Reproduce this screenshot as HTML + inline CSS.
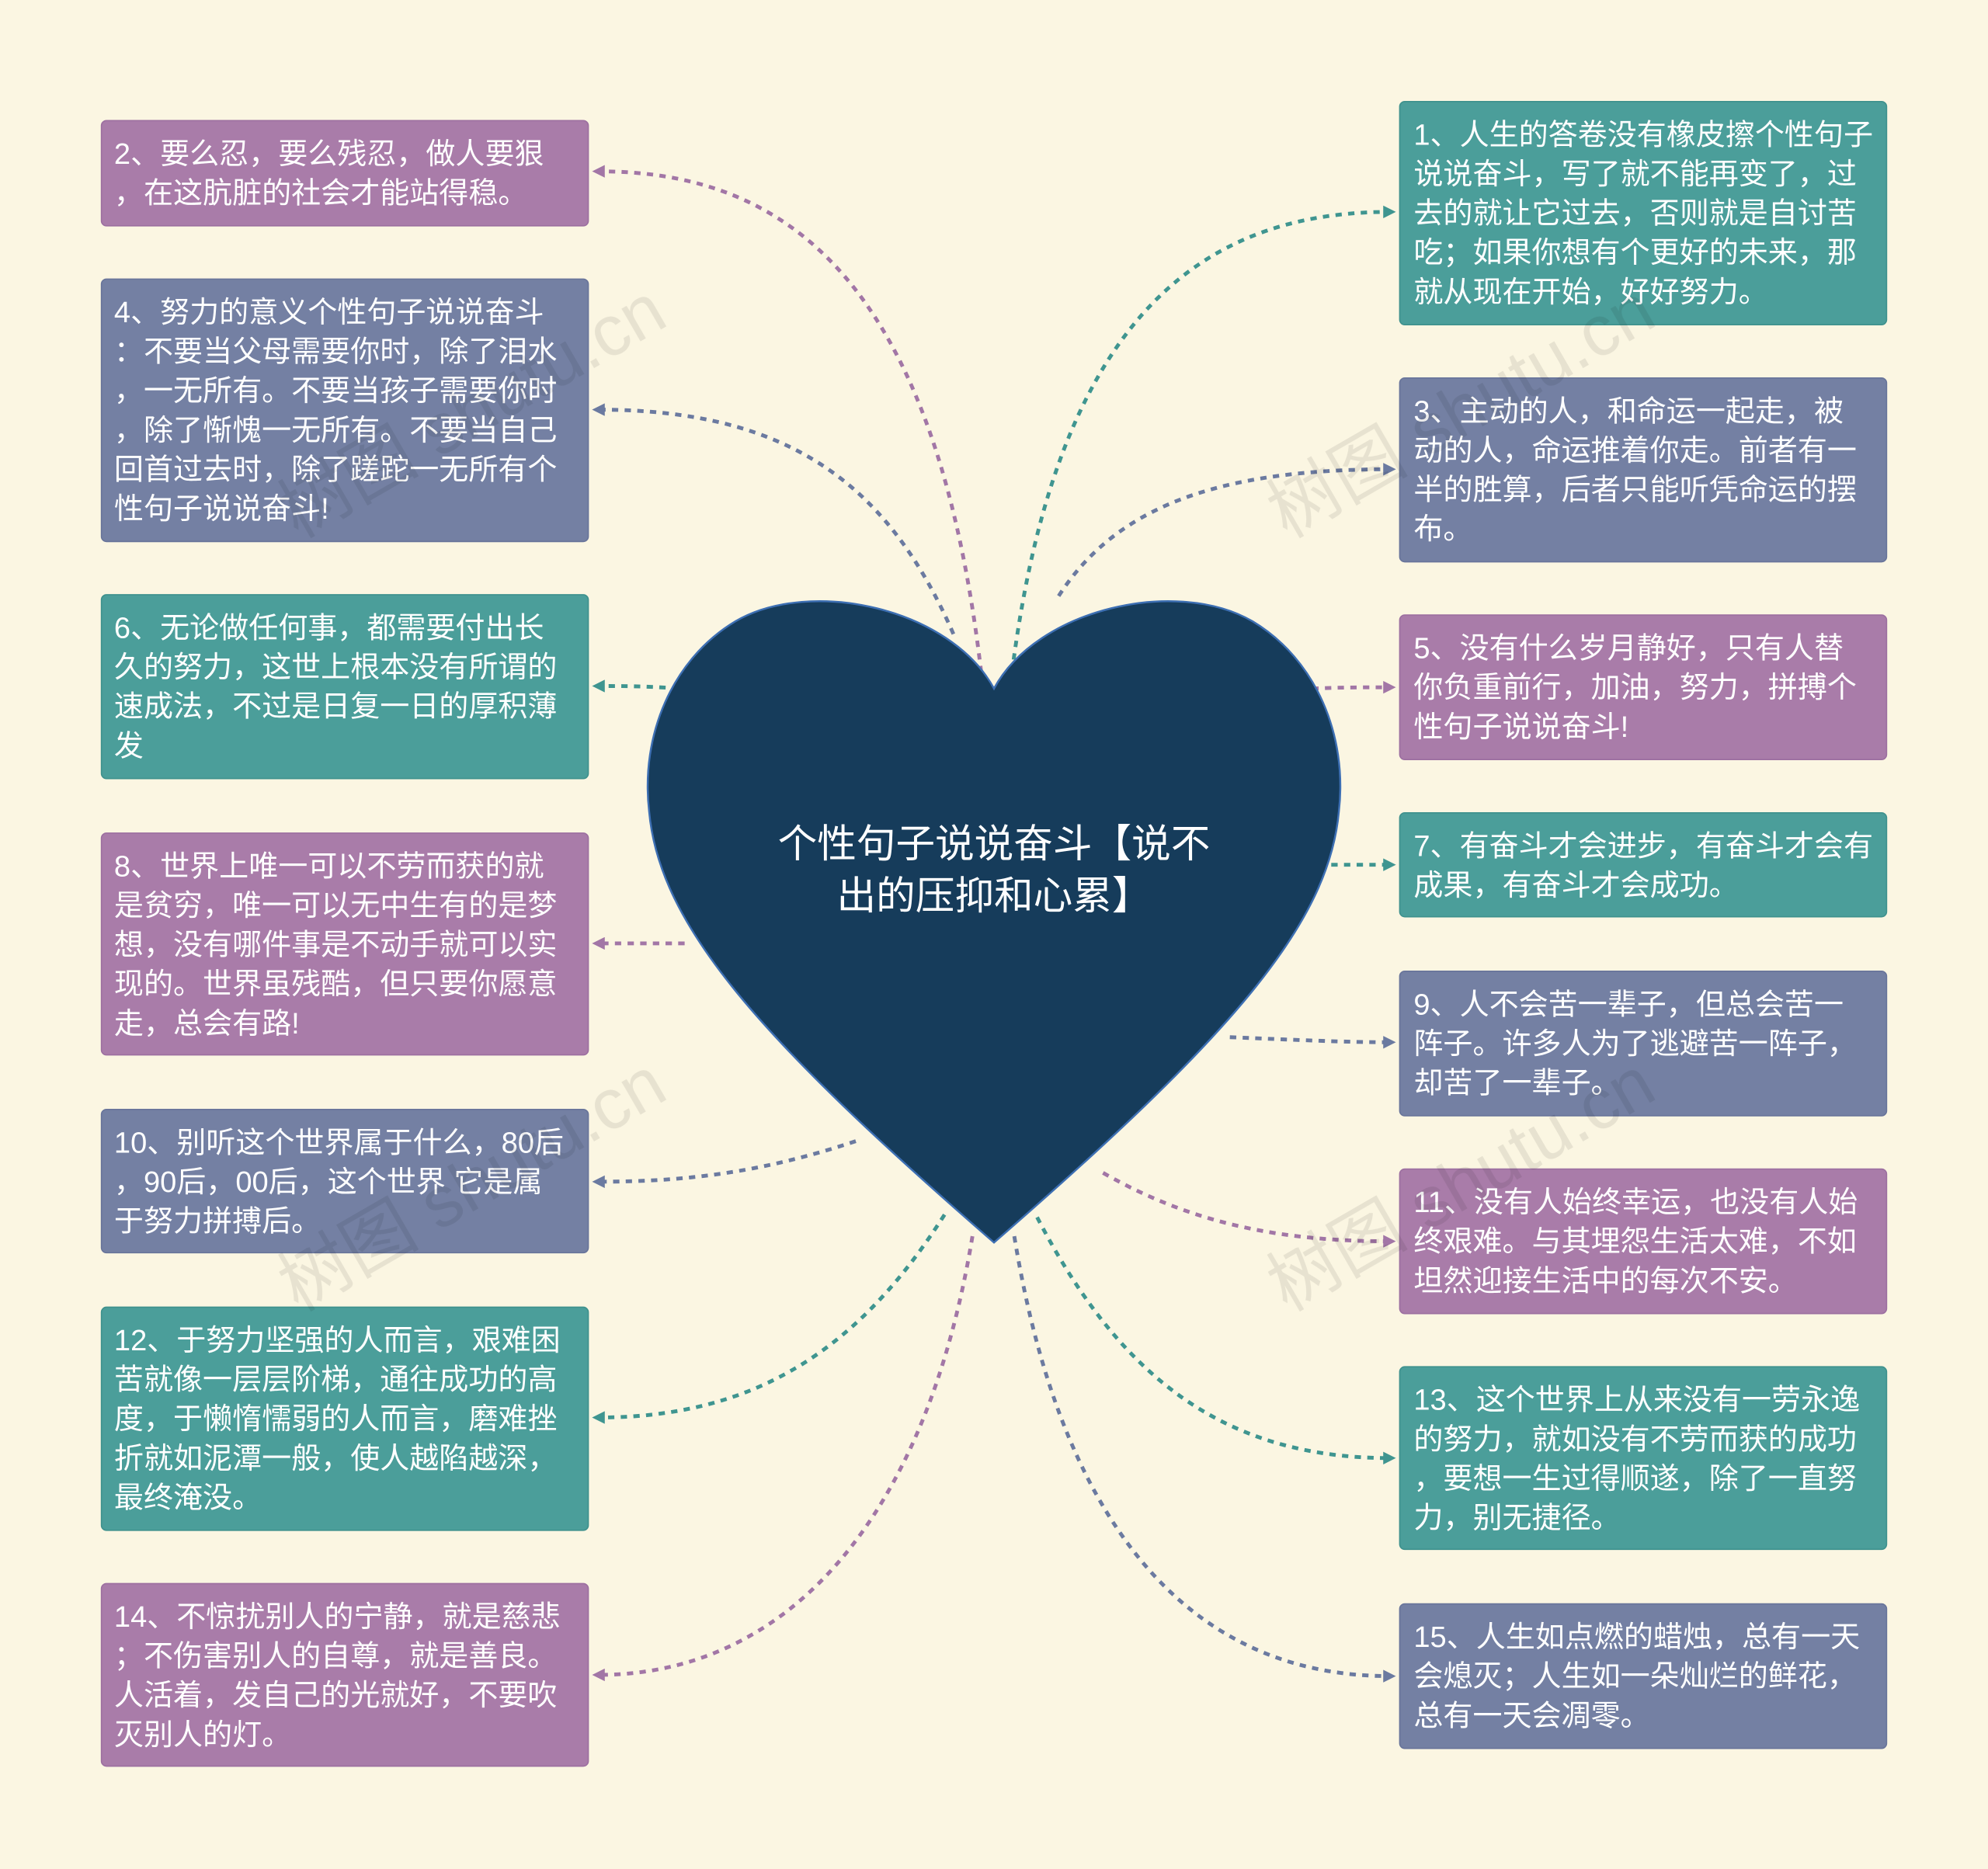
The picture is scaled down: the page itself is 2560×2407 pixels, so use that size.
<!DOCTYPE html>
<html><head><meta charset="utf-8"><style>
html,body{margin:0;padding:0;background:#fbf6e2;width:2560px;height:2407px;overflow:hidden;}
svg{display:block}
text{font-family:"Liberation Sans","Noto Sans CJK SC",sans-serif;}
.t{fill:#fff;font-size:23.3px;}
.wm{fill:#000;opacity:0.08;font-size:56px;font-family:"Liberation Serif","Noto Serif CJK SC",serif;}
</style></head><body>
<svg width="2560" height="2407" viewBox="0 0 1568 1474" xmlns="http://www.w3.org/2000/svg">
<defs>
<marker id="mp" markerWidth="10" markerHeight="10" refX="5" refY="5" orient="auto" markerUnits="userSpaceOnUse"><path d="M0,0 L10,5 L0,10 z" fill="#a276a6"/></marker>
<marker id="ms" markerWidth="10" markerHeight="10" refX="5" refY="5" orient="auto" markerUnits="userSpaceOnUse"><path d="M0,0 L10,5 L0,10 z" fill="#6b7aa0"/></marker>
<marker id="mt" markerWidth="10" markerHeight="10" refX="5" refY="5" orient="auto" markerUnits="userSpaceOnUse"><path d="M0,0 L10,5 L0,10 z" fill="#3f9590"/></marker>
</defs>
<rect width="1568" height="1474" fill="#fbf6e2"/>

<g fill="none" stroke-width="3" stroke-dasharray="5,5">
<path d="M775,540 C740,220 620,135 472,135" stroke="#a276a6" marker-end="url(#mp)"/>
<path d="M752,500 C700,380 620,323 472,323" stroke="#6b7aa0" marker-end="url(#ms)"/>
<path d="M535,543 C510,541 490,541 472,541" stroke="#3f9590" marker-end="url(#mt)"/>
<path d="M540,744 C510,744 490,744 472,744" stroke="#a276a6" marker-end="url(#mp)"/>
<path d="M675,900 C600,925 540,932 472,932" stroke="#6b7aa0" marker-end="url(#ms)"/>
<path d="M745,958 C680,1060 600,1118 472,1118" stroke="#3f9590" marker-end="url(#mt)"/>
<path d="M767,975 C730,1200 620,1321 472,1321" stroke="#a276a6" marker-end="url(#mp)"/>
<path d="M797,540 C830,260 940,167 1096,167" stroke="#3f9590" marker-end="url(#mt)"/>
<path d="M835,470 C880,400 960,370 1096,370" stroke="#6b7aa0" marker-end="url(#ms)"/>
<path d="M1035,543 C1060,542 1080,542 1096,542" stroke="#a276a6" marker-end="url(#mp)"/>
<path d="M1050,682 C1070,682 1085,682 1096,682" stroke="#3f9590" marker-end="url(#mt)"/>
<path d="M970,818 C1020,820 1060,822 1096,822" stroke="#6b7aa0" marker-end="url(#ms)"/>
<path d="M870,925 C940,965 1010,979 1096,979" stroke="#a276a6" marker-end="url(#mp)"/>
<path d="M818,960 C880,1080 960,1150 1096,1150" stroke="#3f9590" marker-end="url(#mt)"/>
<path d="M800,975 C840,1220 950,1322 1096,1322" stroke="#6b7aa0" marker-end="url(#ms)"/>
</g>

<path d="M784,543 C750,480 640,455 580,490 C530,520 505,580 512,640 C520,730 600,820 784,980 C968,820 1048,730 1056,640 C1063,580 1038,520 988,490 C928,455 818,480 784,543 Z" fill="#163c5b" stroke="#3d6fb3" stroke-width="1.5"/>
<text x="784" y="676" text-anchor="middle" fill="#fff" font-size="31">个性句子说说奋斗【说不</text>
<text x="784" y="717" text-anchor="middle" fill="#fff" font-size="31">出的压抑和心累】</text>

<g stroke-width="1">
<rect x="80" y="95" width="384" height="83" rx="4" fill="#a97ca9" stroke="#9c6fa0"/>
<rect x="80" y="220" width="384" height="207" rx="4" fill="#7480a3" stroke="#68749a"/>
<rect x="80" y="469" width="384" height="145" rx="4" fill="#4b9e9a" stroke="#3e918d"/>
<rect x="80" y="657" width="384" height="175" rx="4" fill="#a97ca9" stroke="#9c6fa0"/>
<rect x="80" y="875" width="384" height="113" rx="4" fill="#7480a3" stroke="#68749a"/>
<rect x="80" y="1031" width="384" height="176" rx="4" fill="#4b9e9a" stroke="#3e918d"/>
<rect x="80" y="1249" width="384" height="144" rx="4" fill="#a97ca9" stroke="#9c6fa0"/>
<rect x="1104" y="80" width="384" height="176" rx="4" fill="#4b9e9a" stroke="#3e918d"/>
<rect x="1104" y="298" width="384" height="145" rx="4" fill="#7480a3" stroke="#68749a"/>
<rect x="1104" y="485" width="384" height="114" rx="4" fill="#a97ca9" stroke="#9c6fa0"/>
<rect x="1104" y="641" width="384" height="82" rx="4" fill="#4b9e9a" stroke="#3e918d"/>
<rect x="1104" y="766" width="384" height="114" rx="4" fill="#7480a3" stroke="#68749a"/>
<rect x="1104" y="922" width="384" height="114" rx="4" fill="#a97ca9" stroke="#9c6fa0"/>
<rect x="1104" y="1078" width="384" height="144" rx="4" fill="#4b9e9a" stroke="#3e918d"/>
<rect x="1104" y="1265" width="384" height="114" rx="4" fill="#7480a3" stroke="#68749a"/>
</g>

<g class="t">
<text x="90" y="129">2、要么忍，要么残忍，做人要狠</text>
<text x="90" y="160">，在这肮脏的社会才能站得稳。</text>

<text x="90" y="254">4、努力的意义个性句子说说奋斗</text>
<text x="90" y="285">：不要当父母需要你时，除了泪水</text>
<text x="90" y="316">，一无所有。不要当孩子需要你时</text>
<text x="90" y="347">，除了惭愧一无所有。不要当自己</text>
<text x="90" y="378">回首过去时，除了蹉跎一无所有个</text>
<text x="90" y="409">性句子说说奋斗!</text>

<text x="90" y="503">6、无论做任何事，都需要付出长</text>
<text x="90" y="534">久的努力，这世上根本没有所谓的</text>
<text x="90" y="565">速成法，不过是日复一日的厚积薄</text>
<text x="90" y="596">发</text>

<text x="90" y="691">8、世界上唯一可以不劳而获的就</text>
<text x="90" y="722">是贫穷，唯一可以无中生有的是梦</text>
<text x="90" y="753">想，没有哪件事是不动手就可以实</text>
<text x="90" y="784">现的。世界虽残酷，但只要你愿意</text>
<text x="90" y="815">走，总会有路!</text>

<text x="90" y="909">10、别听这个世界属于什么，80后</text>
<text x="90" y="940">，90后，00后，这个世界 它是属</text>
<text x="90" y="971">于努力拼搏后。</text>

<text x="90" y="1065">12、于努力坚强的人而言，艰难困</text>
<text x="90" y="1096">苦就像一层层阶梯，通往成功的高</text>
<text x="90" y="1127">度，于懒惰懦弱的人而言，磨难挫</text>
<text x="90" y="1158">折就如泥潭一般，使人越陷越深，</text>
<text x="90" y="1189">最终淹没。</text>

<text x="90" y="1283">14、不惊扰别人的宁静，就是慈悲</text>
<text x="90" y="1314">；不伤害别人的自尊，就是善良。</text>
<text x="90" y="1345">人活着，发自己的光就好，不要吹</text>
<text x="90" y="1376">灭别人的灯。</text>

<text x="1115" y="114">1、人生的答卷没有橡皮擦个性句子</text>
<text x="1115" y="145">说说奋斗，写了就不能再变了，过</text>
<text x="1115" y="176">去的就让它过去，否则就是自讨苦</text>
<text x="1115" y="207">吃；如果你想有个更好的未来，那</text>
<text x="1115" y="238">就从现在开始，好好努力。</text>

<text x="1115" y="332">3、主动的人，和命运一起走，被</text>
<text x="1115" y="363">动的人，命运推着你走。前者有一</text>
<text x="1115" y="394">半的胜算，后者只能听凭命运的摆</text>
<text x="1115" y="425">布。</text>

<text x="1115" y="519">5、没有什么岁月静好，只有人替</text>
<text x="1115" y="550">你负重前行，加油，努力，拼搏个</text>
<text x="1115" y="581">性句子说说奋斗!</text>

<text x="1115" y="675">7、有奋斗才会进步，有奋斗才会有</text>
<text x="1115" y="706">成果，有奋斗才会成功。</text>

<text x="1115" y="800">9、人不会苦一辈子，但总会苦一</text>
<text x="1115" y="831">阵子。许多人为了逃避苦一阵子，</text>
<text x="1115" y="862">却苦了一辈子。</text>

<text x="1115" y="956">11、没有人始终幸运，也没有人始</text>
<text x="1115" y="987">终艰难。与其埋怨生活太难，不如</text>
<text x="1115" y="1018">坦然迎接生活中的每次不安。</text>

<text x="1115" y="1112">13、这个世界上从来没有一劳永逸</text>
<text x="1115" y="1143">的努力，就如没有不劳而获的成功</text>
<text x="1115" y="1174">，要想一生过得顺遂，除了一直努</text>
<text x="1115" y="1205">力，别无捷径。</text>

<text x="1115" y="1299">15、人生如点燃的蜡烛，总有一天</text>
<text x="1115" y="1330">会熄灭；人生如一朵灿烂的鲜花，</text>
<text x="1115" y="1361">总有一天会凋零。</text>
</g>

<g class="wm">
<text x="0" y="0" transform="translate(235,425) rotate(-30)">树图 shutu.cn</text>
<text x="0" y="0" transform="translate(235,1035) rotate(-30)">树图 shutu.cn</text>
<text x="0" y="0" transform="translate(1015,425) rotate(-30)">树图 shutu.cn</text>
<text x="0" y="0" transform="translate(1015,1035) rotate(-30)">树图 shutu.cn</text>
</g>
</svg>
</body></html>
